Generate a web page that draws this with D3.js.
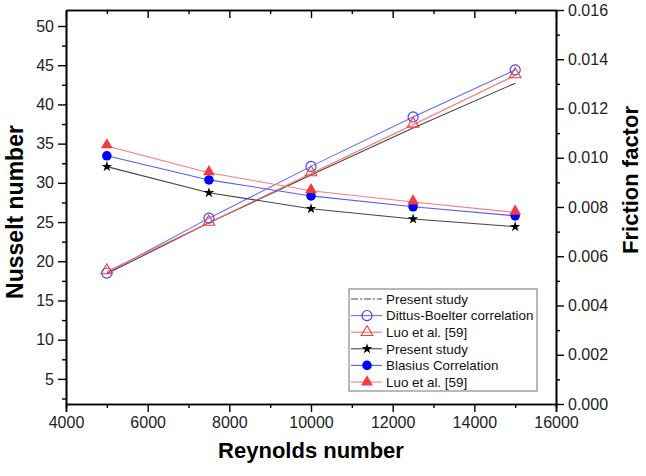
<!DOCTYPE html>
<html>
<head>
<meta charset="utf-8">
<script src="https://cdn.jsdelivr.net/npm/d3@7"></script>
<style>
  body { margin: 0; background: #fff; }
  svg text { font-family: "Liberation Sans", Arial, sans-serif; }
</style>
</head>
<body>
<div id="chart"></div>
<script>
// data
var reynolds = [5000, 7500, 10000, 12500, 15000];

// Nusselt number (left axis)
var nuPresent = [18.4, 24.9, 31.0, 37.0, 42.7];
var nuDittus = [18.5, 25.5, 32.1, 38.4, 44.4];
var nuLuo = [18.7, 24.9, 31.2, 37.4, 43.7];

// friction factor (right axis)
var fPresent = [0.00964, 0.00858, 0.00793, 0.00751, 0.00720];
var fBlasius = [0.01008, 0.00910, 0.00845, 0.00801, 0.00764];
var fLuo = [0.01048, 0.00939, 0.00866, 0.00820, 0.00778];

var xMajor = [4000, 6000, 8000, 10000, 12000, 14000, 16000];
var nuTicks = [5, 10, 15, 20, 25, 30, 35, 40, 45, 50];
var fTicks = [0, 0.002, 0.004, 0.006, 0.008, 0.010, 0.012, 0.014, 0.016];

var W = 646, H = 476;
// plot box (note: "top" is reserved on window, so use m*)
var mLeft = 66, mRight = 556, mTop = 10, mBottom = 404;

var svg = d3.select("#chart").append("svg")
    .attr("width", W)
    .attr("height", H);

var x = d3.scaleLinear().domain([4000, 16000]).range([mLeft, mRight]);
var yNu = d3.scaleLinear().domain([1.8, 52.04]).range([mBottom, mTop]);
var yF = d3.scaleLinear().domain([0, 0.016]).range([mBottom, mTop]);

var xMinor = d3.range(5000, 16000, 2000);
var nuMinor = d3.range(2.5, 52, 5);
var fMinor = d3.range(0.001, 0.016, 0.002);

function styleAxis(g) {
    g.select(".domain").attr("stroke", "#000").attr("stroke-width", 1.6);
    g.selectAll(".tick line").attr("stroke", "#000").attr("stroke-width", 1.4);
    g.selectAll("text").style("font-size", "16px").attr("fill", "#222");
}

// bottom axis
svg.append("g")
    .attr("transform", "translate(0," + mBottom + ")")
    .call(d3.axisBottom(x).tickValues(xMajor).tickSize(8).tickPadding(5).tickFormat(d3.format("d")))
    .call(styleAxis);
svg.append("g")
    .attr("transform", "translate(0," + mBottom + ")")
    .call(d3.axisBottom(x).tickValues(xMinor).tickSize(4).tickFormat(""))
    .call(styleAxis);

// top axis, ticks inward
svg.append("g")
    .attr("transform", "translate(0," + mTop + ")")
    .call(d3.axisBottom(x).tickValues(xMajor).tickSize(8).tickSizeOuter(0).tickFormat(""))
    .call(styleAxis);
svg.append("g")
    .attr("transform", "translate(0," + mTop + ")")
    .call(d3.axisBottom(x).tickValues(xMinor).tickSize(4).tickSizeOuter(0).tickFormat(""))
    .call(styleAxis);

// left axis
svg.append("g")
    .attr("transform", "translate(" + mLeft + ",0)")
    .call(d3.axisLeft(yNu).tickValues(nuTicks).tickSize(8).tickSizeOuter(0).tickPadding(4))
    .call(styleAxis);
svg.append("g")
    .attr("transform", "translate(" + mLeft + ",0)")
    .call(d3.axisLeft(yNu).tickValues(nuMinor).tickSize(4).tickSizeOuter(0).tickFormat(""))
    .call(styleAxis);

// right axis
svg.append("g")
    .attr("transform", "translate(" + mRight + ",0)")
    .call(d3.axisRight(yF).tickValues(fTicks).tickSize(8).tickSizeOuter(0).tickPadding(4).tickFormat(d3.format(".3f")))
    .call(styleAxis);
svg.append("g")
    .attr("transform", "translate(" + mRight + ",0)")
    .call(d3.axisRight(yF).tickValues(fMinor).tickSize(4).tickSizeOuter(0).tickFormat(""))
    .call(styleAxis);

// axis titles
svg.append("text")
    .attr("x", 311).attr("y", 458)
    .attr("text-anchor", "middle")
    .style("font-size", "22px").style("font-weight", "bold")
    .text("Reynolds number");
svg.append("text")
    .attr("transform", "translate(23,212) rotate(-90)")
    .attr("text-anchor", "middle")
    .style("font-size", "23px").style("font-weight", "bold")
    .text("Nusselt number");
svg.append("text")
    .attr("transform", "translate(638,180) rotate(-90)")
    .attr("text-anchor", "middle")
    .style("font-size", "22px").style("font-weight", "bold")
    .text("Friction factor");

var series = [
    { name: "Present study", vals: nuPresent, y: yNu, line: "#444", legendDash: "7,2,2,2", sym: null },
    { name: "Dittus-Boelter correlation", vals: nuDittus, y: yNu, line: "#6b6bff", sym: d3.symbolCircle, size: 80, fill: "none", stroke: "#3b3bff" },
    { name: "Luo et al. [59]", vals: nuLuo, y: yNu, line: "#ff6a6a", sym: d3.symbolTriangle, size: 58, fill: "none", stroke: "#f03c3c" },
    { name: "Present study", vals: fPresent, y: yF, line: "#444", sym: d3.symbolStar, size: 34, fill: "#000", stroke: "none" },
    { name: "Blasius Correlation", vals: fBlasius, y: yF, line: "#5a5aff", sym: d3.symbolCircle, size: 72, fill: "#0000ff", stroke: "none" },
    { name: "Luo et al. [59]", vals: fLuo, y: yF, line: "#ff7a7a", sym: d3.symbolTriangle, size: 60, fill: "#f03c3c", stroke: "none" }
];

var plot = svg.append("g");

series.forEach(function(s) {
    var line = d3.line()
        .x(function(d, i) { return x(reynolds[i]); })
        .y(function(d) { return s.y(d); });
    plot.append("path")
        .datum(s.vals)
        .attr("d", line)
        .attr("fill", "none")
        .attr("stroke", s.line)
        .attr("stroke-width", 1.1);
});

series.forEach(function(s) {
    if (!s.sym) return;
    plot.selectAll(null)
        .data(s.vals)
        .enter()
        .append("path")
        .attr("transform", function(d, i) {
            var dy = s.sym === d3.symbolTriangle ? -1 : 0;
            return "translate(" + x(reynolds[i]) + "," + (s.y(d) + dy) + ")";
        })
        .attr("d", d3.symbol().type(s.sym).size(s.size))
        .attr("fill", s.fill)
        .attr("stroke", s.stroke)
        .attr("stroke-width", 1.1);
});

// legend
var lg = svg.append("g");
lg.append("rect")
    .attr("x", 349).attr("y", 289)
    .attr("width", 188).attr("height", 102)
    .attr("fill", "#fff")
    .attr("stroke", "#8a8a8a")
    .attr("stroke-width", 1.2);

series.forEach(function(s, i) {
    var cy = 299 + i * 16.6;
    lg.append("line")
        .attr("x1", 351).attr("x2", 382)
        .attr("y1", cy).attr("y2", cy)
        .attr("stroke", s.line)
        .attr("stroke-width", 1.1)
        .attr("stroke-dasharray", s.legendDash || null);
    if (s.sym) {
        lg.append("path")
            .attr("transform", "translate(367," + cy + ")")
            .attr("d", d3.symbol().type(s.sym).size(s.size))
            .attr("fill", s.fill)
            .attr("stroke", s.stroke)
            .attr("stroke-width", 1.1);
    }
    lg.append("text")
        .attr("x", 386).attr("y", cy + 4.8)
        .style("font-size", "13.4px")
        .attr("fill", "#111")
        .text(s.name);
});
</script>
</body>
</html>
